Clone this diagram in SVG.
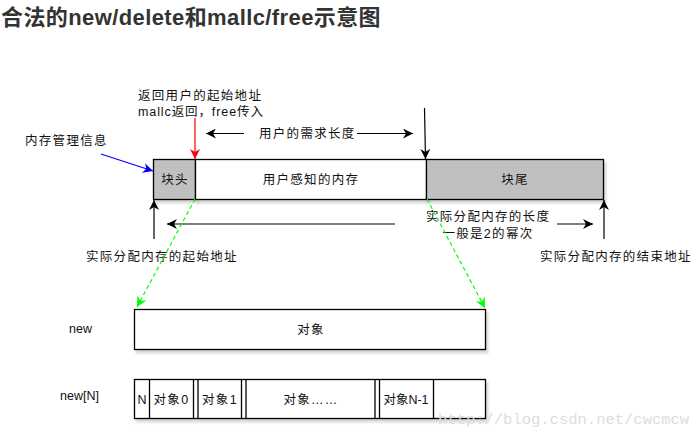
<svg xmlns="http://www.w3.org/2000/svg" width="698" height="428" viewBox="0 0 698 428">
<style>
.t{font-family:"Liberation Sans","Noto Sans CJK SC",sans-serif;font-size:12.5px;fill:#111;}
.cj{letter-spacing:1.3px;}
.m{text-anchor:middle;}
.box{stroke:#000;stroke-width:1.3;}
.ln{fill:none;stroke-width:1.2;}
</style>
<defs>
<filter id="sh" x="-5%" y="-20%" width="115%" height="150%">
<feDropShadow dx="2" dy="3" stdDeviation="1.5" flood-color="#000" flood-opacity="0.18"/>
</filter>
<marker id="ak" viewBox="0 0 10 10" refX="10" refY="5" markerWidth="12" markerHeight="10" markerUnits="userSpaceOnUse" orient="auto"><path d="M0,0 L10,5 L0,10 L3,5 z" fill="#000"/></marker>
<marker id="ar" viewBox="0 0 10 10" refX="10" refY="5" markerWidth="12" markerHeight="10" markerUnits="userSpaceOnUse" orient="auto"><path d="M0,0 L10,5 L0,10 L3,5 z" fill="#f00"/></marker>
<marker id="ab" viewBox="0 0 10 10" refX="10" refY="5" markerWidth="12" markerHeight="10" markerUnits="userSpaceOnUse" orient="auto"><path d="M0,0 L10,5 L0,10 L3,5 z" fill="#00f"/></marker>
<marker id="ag" viewBox="0 0 10 10" refX="10" refY="5" markerWidth="12" markerHeight="10" markerUnits="userSpaceOnUse" orient="auto"><path d="M0,0 L10,5 L0,10 L3,5 z" fill="#0f0"/></marker>
</defs>
<rect width="698" height="428" fill="#fff"/>
<text x="1" y="25" style="font-family:'Liberation Sans','Noto Sans CJK SC',sans-serif;font-size:22px;font-weight:bold;letter-spacing:0.4px;fill:#333">合法的new/delete和mallc/free示意图</text>

<g id="block-head"><rect class="box" x="153.5" y="159.5" width="42" height="40" fill="#c0c0c0" filter="url(#sh)"/><text class="t cj m" x="175" y="183.5">块头</text></g>
<g id="user-mem"><rect class="box" x="195.5" y="159.5" width="231" height="40" fill="#fff" filter="url(#sh)"/><text class="t cj m" x="311" y="183.5">用户感知的内存</text></g>
<g id="block-tail"><rect class="box" x="426.5" y="159.5" width="177" height="40" fill="#c0c0c0" filter="url(#sh)"/><text class="t cj m" x="515" y="183.5">块尾</text></g>

<g id="new-obj"><rect class="box" x="134.5" y="309.5" width="351" height="40" fill="#fff" filter="url(#sh)"/><text class="t cj m" x="311" y="333.5">对象</text></g>

<g id="newN-row">
<rect class="box" x="134.5" y="379.5" width="351" height="39" fill="#fff" filter="url(#sh)"/>
<g class="box" fill="none">
<line x1="149.5" y1="379.5" x2="149.5" y2="418.5"/>
<line x1="193.5" y1="379.5" x2="193.5" y2="418.5"/>
<line x1="198" y1="379.5" x2="198" y2="418.5"/>
<line x1="241.5" y1="379.5" x2="241.5" y2="418.5"/>
<line x1="246" y1="379.5" x2="246" y2="418.5"/>
<line x1="375" y1="379.5" x2="375" y2="418.5"/>
<line x1="379.5" y1="379.5" x2="379.5" y2="418.5"/>
<line x1="433.5" y1="379.5" x2="433.5" y2="418.5"/>
</g>
<text class="t m" x="142" y="403.5">N</text>
<text class="t cj m" x="171.5" y="403.5">对象0</text>
<text class="t cj m" x="220" y="403.5">对象1</text>
<text class="t cj m" x="311" y="403.5">对象……</text>
<text class="t m" x="406" y="403.5">对象N-1</text>
</g>

<g id="labels">
<text class="t cj" x="138" y="99.5">返回用户的起始地址</text>
<text class="t" x="138" y="116" style="letter-spacing:0.9px">mallc返回，free传入</text>
<text class="t cj" x="25" y="144.5">内存管理信息</text>
<text class="t cj" x="259" y="137.5">用户的需求长度</text>
<text class="t cj" x="426" y="221">实际分配内存的长度</text>
<text class="t cj m" x="488" y="237.5">一般是2的幂次</text>
<text class="t cj" x="86" y="261">实际分配内存的起始地址</text>
<text class="t cj" x="540" y="261">实际分配内存的结束地址</text>
<text class="t" x="69" y="333">new</text>
<text class="t" x="60" y="400">new[N]</text>
</g>

<g id="connectors">
<line class="ln" stroke="#f00" x1="195" y1="118" x2="195" y2="159" marker-end="url(#ar)"/>
<line class="ln" stroke="#00f" x1="101" y1="154" x2="153" y2="171" marker-end="url(#ab)"/>
<line class="ln" stroke="#000" x1="244" y1="133.5" x2="206" y2="133.5" marker-end="url(#ak)"/>
<line class="ln" stroke="#000" x1="357" y1="133.5" x2="413" y2="133.5" marker-end="url(#ak)"/>
<line class="ln" stroke="#000" x1="424.5" y1="108" x2="425.5" y2="159" marker-end="url(#ak)"/>
<line class="ln" stroke="#000" x1="154" y1="239" x2="154" y2="200" marker-end="url(#ak)"/>
<line class="ln" stroke="#000" x1="395" y1="224" x2="167" y2="224" marker-end="url(#ak)"/>
<line class="ln" stroke="#000" x1="557" y1="224" x2="593" y2="224" marker-end="url(#ak)"/>
<line class="ln" stroke="#000" x1="604" y1="239" x2="604" y2="200" marker-end="url(#ak)"/>
<line class="ln" stroke="#0f0" stroke-dasharray="4 3" x1="195" y1="199" x2="137" y2="307" marker-end="url(#ag)"/>
<line class="ln" stroke="#0f0" stroke-dasharray="4 3" x1="427" y1="199" x2="485" y2="308" marker-end="url(#ag)"/>
</g>

<text x="438" y="424" style="font-family:'Liberation Mono',monospace;font-size:15.5px;fill:#ddd">http://blog.csdn.net/cwcmcw</text>
</svg>
